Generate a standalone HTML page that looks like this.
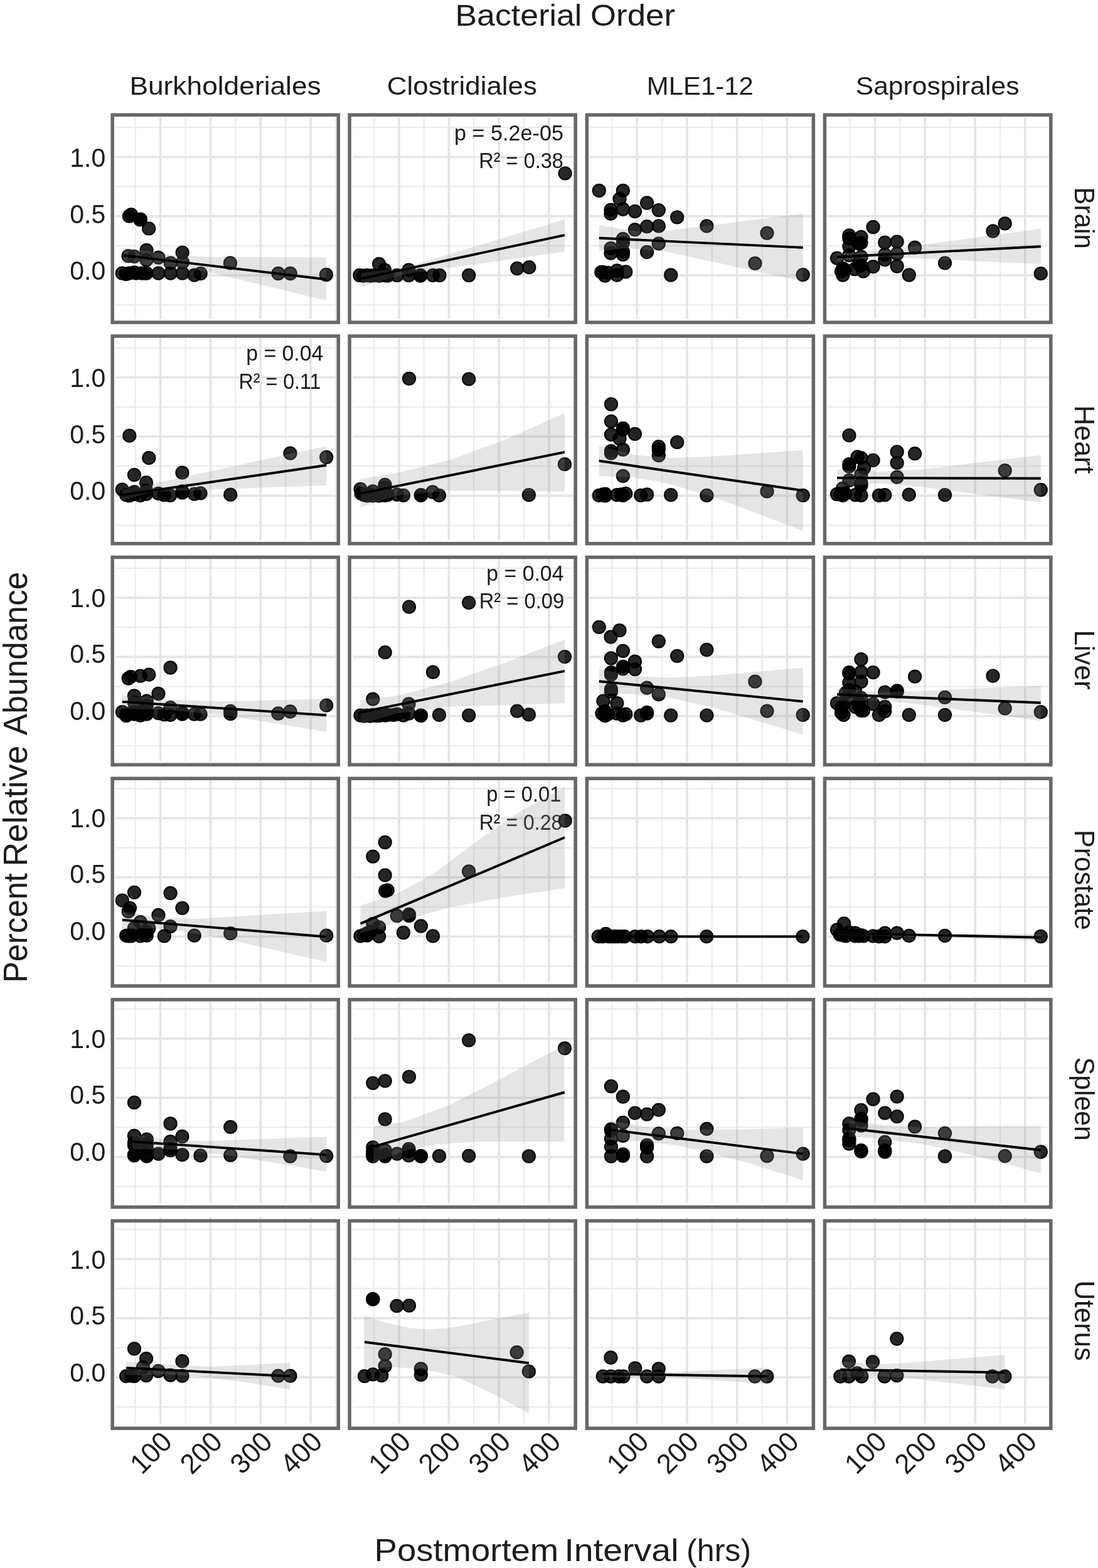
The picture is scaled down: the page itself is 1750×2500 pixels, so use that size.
<!DOCTYPE html>
<html lang="en"><head><meta charset="utf-8"><title>Bacterial Order - Percent Relative Abundance vs Postmortem Interval</title>
<style>html,body{margin:0;padding:0;background:#fff}svg{display:block}text{font-family:"Liberation Sans", sans-serif;fill:#1c1c1c}</style>
</head><body>
<svg width="1750" height="2500" viewBox="0 0 1750 2500">
<rect x="0" y="0" width="1750" height="2500" fill="#fff"/>
<defs>
<clipPath id="c00"><rect x="179.2" y="183.2" width="360.1" height="330.8"/></clipPath>
<clipPath id="c01"><rect x="557.1" y="183.2" width="360.1" height="330.8"/></clipPath>
<clipPath id="c02"><rect x="935.4" y="183.2" width="361" height="330.8"/></clipPath>
<clipPath id="c03"><rect x="1314.5" y="183.2" width="360.3" height="330.8"/></clipPath>
<clipPath id="c10"><rect x="179.2" y="535.9" width="360.1" height="330.8"/></clipPath>
<clipPath id="c11"><rect x="557.1" y="535.9" width="360.1" height="330.8"/></clipPath>
<clipPath id="c12"><rect x="935.4" y="535.9" width="361" height="330.8"/></clipPath>
<clipPath id="c13"><rect x="1314.5" y="535.9" width="360.3" height="330.8"/></clipPath>
<clipPath id="c20"><rect x="179.2" y="888.5" width="360.1" height="330.8"/></clipPath>
<clipPath id="c21"><rect x="557.1" y="888.5" width="360.1" height="330.8"/></clipPath>
<clipPath id="c22"><rect x="935.4" y="888.5" width="361" height="330.8"/></clipPath>
<clipPath id="c23"><rect x="1314.5" y="888.5" width="360.3" height="330.8"/></clipPath>
<clipPath id="c30"><rect x="179.2" y="1241.2" width="360.1" height="330.8"/></clipPath>
<clipPath id="c31"><rect x="557.1" y="1241.2" width="360.1" height="330.8"/></clipPath>
<clipPath id="c32"><rect x="935.4" y="1241.2" width="361" height="330.8"/></clipPath>
<clipPath id="c33"><rect x="1314.5" y="1241.2" width="360.3" height="330.8"/></clipPath>
<clipPath id="c40"><rect x="179.2" y="1593.8" width="360.1" height="330.8"/></clipPath>
<clipPath id="c41"><rect x="557.1" y="1593.8" width="360.1" height="330.8"/></clipPath>
<clipPath id="c42"><rect x="935.4" y="1593.8" width="361" height="330.8"/></clipPath>
<clipPath id="c43"><rect x="1314.5" y="1593.8" width="360.3" height="330.8"/></clipPath>
<clipPath id="c50"><rect x="179.2" y="1946.5" width="360.1" height="330.8"/></clipPath>
<clipPath id="c51"><rect x="557.1" y="1946.5" width="360.1" height="330.8"/></clipPath>
<clipPath id="c52"><rect x="935.4" y="1946.5" width="361" height="330.8"/></clipPath>
<clipPath id="c53"><rect x="1314.5" y="1946.5" width="360.3" height="330.8"/></clipPath>
<clipPath id="g00"><rect x="183.9" y="186.9" width="352.2" height="322.1"/></clipPath>
<clipPath id="g01"><rect x="561.9" y="186.9" width="352.2" height="322.1"/></clipPath>
<clipPath id="g02"><rect x="940.1" y="186.9" width="353.1" height="322.1"/></clipPath>
<clipPath id="g03"><rect x="1319.3" y="186.9" width="352.4" height="322.1"/></clipPath>
<clipPath id="g10"><rect x="183.9" y="537.6" width="352.2" height="323.9"/></clipPath>
<clipPath id="g11"><rect x="561.9" y="537.6" width="352.2" height="323.9"/></clipPath>
<clipPath id="g12"><rect x="940.1" y="537.6" width="353.1" height="323.9"/></clipPath>
<clipPath id="g13"><rect x="1319.3" y="537.6" width="352.4" height="323.9"/></clipPath>
<clipPath id="g20"><rect x="183.9" y="888.3" width="352.2" height="325.8"/></clipPath>
<clipPath id="g21"><rect x="561.9" y="888.3" width="352.2" height="325.8"/></clipPath>
<clipPath id="g22"><rect x="940.1" y="888.3" width="353.1" height="325.8"/></clipPath>
<clipPath id="g23"><rect x="1319.3" y="888.3" width="352.4" height="325.8"/></clipPath>
<clipPath id="g30"><rect x="183.9" y="1239.1" width="352.2" height="327.7"/></clipPath>
<clipPath id="g31"><rect x="561.9" y="1239.1" width="352.2" height="327.7"/></clipPath>
<clipPath id="g32"><rect x="940.1" y="1239.1" width="353.1" height="327.7"/></clipPath>
<clipPath id="g33"><rect x="1319.3" y="1239.1" width="352.4" height="327.7"/></clipPath>
<clipPath id="g40"><rect x="183.9" y="1589.8" width="352.2" height="328.4"/></clipPath>
<clipPath id="g41"><rect x="561.9" y="1589.8" width="352.2" height="328.4"/></clipPath>
<clipPath id="g42"><rect x="940.1" y="1589.8" width="353.1" height="328.4"/></clipPath>
<clipPath id="g43"><rect x="1319.3" y="1589.8" width="352.4" height="328.4"/></clipPath>
<clipPath id="g50"><rect x="183.9" y="1940.5" width="352.2" height="329"/></clipPath>
<clipPath id="g51"><rect x="561.9" y="1940.5" width="352.2" height="329"/></clipPath>
<clipPath id="g52"><rect x="940.1" y="1940.5" width="353.1" height="329"/></clipPath>
<clipPath id="g53"><rect x="1319.3" y="1940.5" width="352.4" height="329"/></clipPath>
</defs>
<text x="725.40" y="41" font-size="48" textLength="202.00" lengthAdjust="spacingAndGlyphs">Bacterial</text>
<text x="941.00" y="41" font-size="48" textLength="135.00" lengthAdjust="spacingAndGlyphs">Order</text>
<text x="359.1" y="151.1" font-size="41.5" text-anchor="middle" textLength="305.3" lengthAdjust="spacingAndGlyphs">Burkholderiales</text>
<text x="736.4" y="151.1" font-size="41.5" text-anchor="middle" textLength="239.1" lengthAdjust="spacingAndGlyphs">Clostridiales</text>
<text x="1115.8" y="151.1" font-size="41.5" text-anchor="middle" textLength="170.1" lengthAdjust="spacingAndGlyphs">MLE1-12</text>
<text x="1494.1" y="151.1" font-size="41.5" text-anchor="middle" textLength="260.8" lengthAdjust="spacingAndGlyphs">Saprospirales</text>
<text x="1712.6" y="347.5" font-size="45" text-anchor="middle" textLength="98.5" lengthAdjust="spacingAndGlyphs" transform="rotate(90 1712.6 347.5)">Brain</text>
<text x="1712.6" y="700.7" font-size="45" text-anchor="middle" textLength="109.4" lengthAdjust="spacingAndGlyphs" transform="rotate(90 1712.6 700.7)">Heart</text>
<text x="1712.6" y="1052" font-size="45" text-anchor="middle" textLength="95" lengthAdjust="spacingAndGlyphs" transform="rotate(90 1712.6 1052)">Liver</text>
<text x="1712.6" y="1402.9" font-size="45" text-anchor="middle" textLength="159.7" lengthAdjust="spacingAndGlyphs" transform="rotate(90 1712.6 1402.9)">Prostate</text>
<text x="1712.6" y="1752.2" font-size="45" text-anchor="middle" textLength="133.3" lengthAdjust="spacingAndGlyphs" transform="rotate(90 1712.6 1752.2)">Spleen</text>
<text x="1712.6" y="2105.6" font-size="45" text-anchor="middle" textLength="128.4" lengthAdjust="spacingAndGlyphs" transform="rotate(90 1712.6 2105.6)">Uterus</text>
<text x="42.9" y="1567.00" font-size="54" textLength="175.00" lengthAdjust="spacingAndGlyphs" transform="rotate(-90 42.9 1567.00)">Percent</text>
<text x="42.9" y="1381.60" font-size="54" textLength="193.00" lengthAdjust="spacingAndGlyphs" transform="rotate(-90 42.9 1381.60)">Relative</text>
<text x="42.9" y="1172.20" font-size="54" textLength="260.60" lengthAdjust="spacingAndGlyphs" transform="rotate(-90 42.9 1172.20)">Abundance</text>
<text x="596.60" y="2488.9" font-size="50" textLength="293.60" lengthAdjust="spacingAndGlyphs">Postmortem</text>
<text x="899.40" y="2488.9" font-size="50" textLength="182.20" lengthAdjust="spacingAndGlyphs">Interval</text>
<text x="1094.00" y="2488.9" font-size="50" textLength="103.20" lengthAdjust="spacingAndGlyphs">(hrs)</text>
<text x="168.2" y="266" font-size="42" text-anchor="end" textLength="57" lengthAdjust="spacingAndGlyphs">1.0</text>
<text x="168.2" y="355.6" font-size="42" text-anchor="end" textLength="57" lengthAdjust="spacingAndGlyphs">0.5</text>
<text x="168.2" y="445.8" font-size="42" text-anchor="end" textLength="57" lengthAdjust="spacingAndGlyphs">0.0</text>
<path clip-path="url(#g00)" d="M215.7 172.5V516.8M295.6 172.5V516.8M375.4 172.5V516.8M455.1 172.5V516.8M535 172.5V516.8M176.4 203.2H542M176.4 297.4H542M176.4 391.8H542M176.4 486.2H542" stroke="#ececec" stroke-width="2.2" fill="none"/>
<path clip-path="url(#g00)" d="M255.6 172.5V516.8M335.5 172.5V516.8M415.2 172.5V516.8M495.1 172.5V516.8M176.4 250.3H542M176.4 344.6H542M176.4 439H542" stroke="#e5e5e4" stroke-width="3.6" fill="none"/>
<g clip-path="url(#c00)">
<g fill="#000" fill-opacity="0.85" stroke="#000" stroke-opacity="0.95" stroke-width="2.1">
<circle cx="205.9" cy="344.7" r="10.1"/>
<circle cx="209" cy="342.2" r="10.1"/>
<circle cx="223.9" cy="349.7" r="10.1"/>
<circle cx="223.3" cy="350.3" r="10.1"/>
<circle cx="237.2" cy="364.4" r="10.1"/>
<circle cx="233.5" cy="398.9" r="10.1"/>
<circle cx="204.6" cy="408.2" r="10.1"/>
<circle cx="214" cy="408.8" r="10.1"/>
<circle cx="252.5" cy="410.7" r="10.1"/>
<circle cx="290.7" cy="402.6" r="10.1"/>
<circle cx="233.5" cy="414.4" r="10.1"/>
<circle cx="271.8" cy="419.4" r="10.1"/>
<circle cx="291.1" cy="418.1" r="10.1"/>
<circle cx="367" cy="419.4" r="10.1"/>
<circle cx="194.7" cy="435.6" r="10.1"/>
<circle cx="200.9" cy="437.1" r="10.1"/>
<circle cx="205.9" cy="435.6" r="10.1"/>
<circle cx="214" cy="434.3" r="10.1"/>
<circle cx="217.1" cy="435.6" r="10.1"/>
<circle cx="225.8" cy="435.6" r="10.1"/>
<circle cx="230.8" cy="435.6" r="10.1"/>
<circle cx="233.5" cy="435.6" r="10.1"/>
<circle cx="252.5" cy="435.6" r="10.1"/>
<circle cx="271.8" cy="435.6" r="10.1"/>
<circle cx="290.7" cy="435.6" r="10.1"/>
<circle cx="309.8" cy="438.7" r="10.1"/>
<circle cx="319.7" cy="436.2" r="10.1"/>
<circle cx="443.5" cy="436" r="10.1"/>
<circle cx="462.7" cy="436" r="10.1"/>
<circle cx="519.9" cy="438" r="10.1"/>
</g>
<polygon points="195.9,394.7 271.7,406.2 330,409.5 519.9,410.4 519.9,479.1 330,433 271.7,425.5 195.9,419" fill="#8c8c8c" fill-opacity="0.225"/>
<line x1="195.9" y1="407" x2="519.9" y2="445.4" stroke="#000" stroke-width="3.9"/>
</g>
<rect x="179.2" y="183.2" width="360.1" height="330.8" fill="none" stroke="#676767" stroke-width="5.5"/>
<path clip-path="url(#g01)" d="M596.2 172.5V516.8M675.7 172.5V516.8M755.2 172.5V516.8M835 172.5V516.8M914.8 172.5V516.8M554.4 203.2H920M554.4 297.4H920M554.4 391.8H920M554.4 486.2H920" stroke="#ececec" stroke-width="2.2" fill="none"/>
<path clip-path="url(#g01)" d="M636 172.5V516.8M715.4 172.5V516.8M795.1 172.5V516.8M875 172.5V516.8M554.4 250.3H920M554.4 344.6H920M554.4 439H920" stroke="#e5e5e4" stroke-width="3.6" fill="none"/>
<g clip-path="url(#c01)">
<text x="898" y="223.5" font-size="35" text-anchor="end" textLength="174" lengthAdjust="spacingAndGlyphs" fill="#0a0a0a">p = 5.2e-05</text>
<text x="898" y="267.8" font-size="35" text-anchor="end" textLength="134.8" lengthAdjust="spacingAndGlyphs" fill="#0a0a0a">R² = 0.38</text>
<g fill="#000" fill-opacity="0.85" stroke="#000" stroke-opacity="0.95" stroke-width="2.1">
<circle cx="900.7" cy="276.3" r="10.1"/>
<circle cx="604.1" cy="421" r="10.1"/>
<circle cx="651.5" cy="430.4" r="10.1"/>
<circle cx="613" cy="430.4" r="10.1"/>
<circle cx="573.3" cy="439" r="10.1"/>
<circle cx="579.2" cy="439.7" r="10.1"/>
<circle cx="585" cy="439" r="10.1"/>
<circle cx="590.8" cy="439.7" r="10.1"/>
<circle cx="596.7" cy="439" r="10.1"/>
<circle cx="604.1" cy="439.7" r="10.1"/>
<circle cx="613" cy="439" r="10.1"/>
<circle cx="617.7" cy="439.7" r="10.1"/>
<circle cx="632.8" cy="439" r="10.1"/>
<circle cx="651.5" cy="439" r="10.1"/>
<circle cx="670.2" cy="439" r="10.1"/>
<circle cx="670.2" cy="439.7" r="10.1"/>
<circle cx="690" cy="439" r="10.1"/>
<circle cx="700.5" cy="439" r="10.1"/>
<circle cx="747.2" cy="439" r="10.1"/>
<circle cx="824.2" cy="428" r="10.1"/>
<circle cx="843.3" cy="426.2" r="10.1"/>
</g>
<polygon points="575.2,435.5 650.3,425.2 900,349.9 900,401.2 650.3,436.2 575.2,456.7" fill="#8c8c8c" fill-opacity="0.225"/>
<line x1="575.2" y1="444.4" x2="900" y2="374.8" stroke="#000" stroke-width="3.9"/>
</g>
<rect x="557.1" y="183.2" width="360.1" height="330.8" fill="none" stroke="#676767" stroke-width="5.5"/>
<path clip-path="url(#g02)" d="M975.5 172.5V516.8M1055.1 172.5V516.8M1134.8 172.5V516.8M1214.7 172.5V516.8M1294.3 172.5V516.8M932.6 203.2H1299.1M932.6 297.4H1299.1M932.6 391.8H1299.1M932.6 486.2H1299.1" stroke="#ececec" stroke-width="2.2" fill="none"/>
<path clip-path="url(#g02)" d="M1015.4 172.5V516.8M1094.8 172.5V516.8M1174.8 172.5V516.8M1254.5 172.5V516.8M932.6 250.3H1299.1M932.6 344.6H1299.1M932.6 439H1299.1" stroke="#e5e5e4" stroke-width="3.6" fill="none"/>
<g clip-path="url(#c02)">
<g fill="#000" fill-opacity="0.85" stroke="#000" stroke-opacity="0.95" stroke-width="2.1">
<circle cx="954.8" cy="303.9" r="10.1"/>
<circle cx="992.9" cy="303.9" r="10.1"/>
<circle cx="987.5" cy="317.2" r="10.1"/>
<circle cx="1031.1" cy="323.5" r="10.1"/>
<circle cx="1049.8" cy="335.1" r="10.1"/>
<circle cx="973.5" cy="334.7" r="10.1"/>
<circle cx="973.5" cy="340.5" r="10.1"/>
<circle cx="992.9" cy="333.5" r="10.1"/>
<circle cx="1012" cy="337" r="10.1"/>
<circle cx="1079.2" cy="346.3" r="10.1"/>
<circle cx="1031.1" cy="361.1" r="10.1"/>
<circle cx="1049.8" cy="360.4" r="10.1"/>
<circle cx="1012" cy="366.2" r="10.1"/>
<circle cx="1126.4" cy="360.4" r="10.1"/>
<circle cx="1222.5" cy="371.6" r="10.1"/>
<circle cx="992.9" cy="380.9" r="10.1"/>
<circle cx="992.9" cy="387.2" r="10.1"/>
<circle cx="1049.8" cy="388.4" r="10.1"/>
<circle cx="973.5" cy="395.8" r="10.1"/>
<circle cx="973.5" cy="403.5" r="10.1"/>
<circle cx="992.9" cy="401.2" r="10.1"/>
<circle cx="992.9" cy="405.9" r="10.1"/>
<circle cx="1031.1" cy="401.9" r="10.1"/>
<circle cx="1203.4" cy="419.9" r="10.1"/>
<circle cx="1279.7" cy="438.1" r="10.1"/>
<circle cx="1069.2" cy="438.5" r="10.1"/>
<circle cx="997.3" cy="433.4" r="10.1"/>
<circle cx="983.3" cy="431.5" r="10.1"/>
<circle cx="983.3" cy="438.5" r="10.1"/>
<circle cx="960.7" cy="433.9" r="10.1"/>
<circle cx="964.2" cy="439.7" r="10.1"/>
<circle cx="968.8" cy="435" r="10.1"/>
<circle cx="958.3" cy="433.9" r="10.1"/>
</g>
<polygon points="954.8,359.2 1021.3,369.7 1058.7,368.5 1279.7,340.5 1279.7,448.6 1058.7,400.5 998,395.4 954.8,400.5" fill="#8c8c8c" fill-opacity="0.225"/>
<line x1="954.8" y1="379.5" x2="1279.7" y2="394.7" stroke="#000" stroke-width="3.9"/>
</g>
<rect x="935.4" y="183.2" width="361" height="330.8" fill="none" stroke="#676767" stroke-width="5.5"/>
<path clip-path="url(#g03)" d="M1354.7 172.5V516.8M1434.4 172.5V516.8M1514.2 172.5V516.8M1594.1 172.5V516.8M1673.8 172.5V516.8M1311.8 203.2H1677.6M1311.8 297.4H1677.6M1311.8 391.8H1677.6M1311.8 486.2H1677.6" stroke="#ececec" stroke-width="2.2" fill="none"/>
<path clip-path="url(#g03)" d="M1394.6 172.5V516.8M1474.3 172.5V516.8M1554.2 172.5V516.8M1633.9 172.5V516.8M1311.8 250.3H1677.6M1311.8 344.6H1677.6M1311.8 439H1677.6" stroke="#e5e5e4" stroke-width="3.6" fill="none"/>
<g clip-path="url(#c03)">
<g fill="#000" fill-opacity="0.85" stroke="#000" stroke-opacity="0.95" stroke-width="2.1">
<circle cx="1391.6" cy="362" r="10.1"/>
<circle cx="1601.7" cy="356.4" r="10.1"/>
<circle cx="1582.5" cy="368.5" r="10.1"/>
<circle cx="1353.4" cy="375.5" r="10.1"/>
<circle cx="1353.4" cy="380.2" r="10.1"/>
<circle cx="1372.5" cy="377.9" r="10.1"/>
<circle cx="1372.5" cy="387.2" r="10.1"/>
<circle cx="1353.4" cy="393" r="10.1"/>
<circle cx="1369" cy="388.4" r="10.1"/>
<circle cx="1410.3" cy="386.7" r="10.1"/>
<circle cx="1429.7" cy="385.3" r="10.1"/>
<circle cx="1458.1" cy="394.7" r="10.1"/>
<circle cx="1334" cy="411.7" r="10.1"/>
<circle cx="1353.4" cy="407" r="10.1"/>
<circle cx="1372.5" cy="409.4" r="10.1"/>
<circle cx="1410.3" cy="405.9" r="10.1"/>
<circle cx="1429.7" cy="404.7" r="10.1"/>
<circle cx="1410.3" cy="414" r="10.1"/>
<circle cx="1429.7" cy="424.5" r="10.1"/>
<circle cx="1391.6" cy="425.2" r="10.1"/>
<circle cx="1506" cy="419.4" r="10.1"/>
<circle cx="1448.8" cy="438.5" r="10.1"/>
<circle cx="1658.8" cy="436.2" r="10.1"/>
<circle cx="1372.5" cy="423.4" r="10.1"/>
<circle cx="1376" cy="432.7" r="10.1"/>
<circle cx="1362" cy="429.2" r="10.1"/>
<circle cx="1343.3" cy="428" r="10.1"/>
<circle cx="1341" cy="432.7" r="10.1"/>
<circle cx="1343.3" cy="438.5" r="10.1"/>
<circle cx="1369" cy="421" r="10.1"/>
<circle cx="1346.8" cy="430.4" r="10.1"/>
</g>
<polygon points="1334,403.5 1399.3,400 1658.8,364.6 1658.8,421 1411,409.4 1334,416.4" fill="#8c8c8c" fill-opacity="0.225"/>
<line x1="1334" y1="409.8" x2="1658.8" y2="393" stroke="#000" stroke-width="3.9"/>
</g>
<rect x="1314.5" y="183.2" width="360.3" height="330.8" fill="none" stroke="#676767" stroke-width="5.5"/>
<text x="168.2" y="616.9" font-size="42" text-anchor="end" textLength="57" lengthAdjust="spacingAndGlyphs">1.0</text>
<text x="168.2" y="706.5" font-size="42" text-anchor="end" textLength="57" lengthAdjust="spacingAndGlyphs">0.5</text>
<text x="168.2" y="796.7" font-size="42" text-anchor="end" textLength="57" lengthAdjust="spacingAndGlyphs">0.0</text>
<path clip-path="url(#g10)" d="M215.7 525.1V869.5M295.6 525.1V869.5M375.4 525.1V869.5M455.1 525.1V869.5M535 525.1V869.5M176.4 554.6H542M176.4 648.8H542M176.4 743.2H542M176.4 837.6H542" stroke="#ececec" stroke-width="2.2" fill="none"/>
<path clip-path="url(#g10)" d="M255.6 525.1V869.5M335.5 525.1V869.5M415.2 525.1V869.5M495.1 525.1V869.5M176.4 601.7H542M176.4 696H542M176.4 790.4H542" stroke="#e5e5e4" stroke-width="3.6" fill="none"/>
<g clip-path="url(#c10)">
<text x="515.4" y="575.3" font-size="35" text-anchor="end" textLength="123.2" lengthAdjust="spacingAndGlyphs" fill="#0a0a0a">p = 0.04</text>
<text x="511.4" y="619.6" font-size="35" text-anchor="end" textLength="130.9" lengthAdjust="spacingAndGlyphs" fill="#0a0a0a">R² = 0.11</text>
<g fill="#000" fill-opacity="0.85" stroke="#000" stroke-opacity="0.95" stroke-width="2.1">
<circle cx="206.3" cy="694.7" r="10.1"/>
<circle cx="237.3" cy="730.2" r="10.1"/>
<circle cx="214" cy="757.2" r="10.1"/>
<circle cx="290.5" cy="753.7" r="10.1"/>
<circle cx="233.1" cy="769.4" r="10.1"/>
<circle cx="462.5" cy="722.7" r="10.1"/>
<circle cx="520.2" cy="729" r="10.1"/>
<circle cx="194.9" cy="780.6" r="10.1"/>
<circle cx="214" cy="784.5" r="10.1"/>
<circle cx="233.1" cy="782.2" r="10.1"/>
<circle cx="290.5" cy="783.4" r="10.1"/>
<circle cx="201.2" cy="789.2" r="10.1"/>
<circle cx="205.8" cy="790.4" r="10.1"/>
<circle cx="214" cy="788" r="10.1"/>
<circle cx="223.8" cy="789.9" r="10.1"/>
<circle cx="233.1" cy="787.6" r="10.1"/>
<circle cx="252.5" cy="786.9" r="10.1"/>
<circle cx="261.8" cy="789.2" r="10.1"/>
<circle cx="271.2" cy="789.9" r="10.1"/>
<circle cx="290.5" cy="785.7" r="10.1"/>
<circle cx="309.7" cy="787.6" r="10.1"/>
<circle cx="319.5" cy="786.4" r="10.1"/>
<circle cx="367.3" cy="788.7" r="10.1"/>
</g>
<polygon points="194.9,780.6 242,771.7 520.2,711 520.2,774 288.7,782.2 242,784.5 194.9,797.4" fill="#8c8c8c" fill-opacity="0.225"/>
<line x1="194.9" y1="789.2" x2="520.2" y2="741.8" stroke="#000" stroke-width="3.9"/>
</g>
<rect x="179.2" y="535.9" width="360.1" height="330.8" fill="none" stroke="#676767" stroke-width="5.5"/>
<path clip-path="url(#g11)" d="M596.2 525.1V869.5M675.7 525.1V869.5M755.2 525.1V869.5M835 525.1V869.5M914.8 525.1V869.5M554.4 554.6H920M554.4 648.8H920M554.4 743.2H920M554.4 837.6H920" stroke="#ececec" stroke-width="2.2" fill="none"/>
<path clip-path="url(#g11)" d="M636 525.1V869.5M715.4 525.1V869.5M795.1 525.1V869.5M875 525.1V869.5M554.4 601.7H920M554.4 696H920M554.4 790.4H920" stroke="#e5e5e4" stroke-width="3.6" fill="none"/>
<g clip-path="url(#c11)">
<g fill="#000" fill-opacity="0.85" stroke="#000" stroke-opacity="0.95" stroke-width="2.1">
<circle cx="652" cy="603.7" r="10.1"/>
<circle cx="747.2" cy="604.4" r="10.1"/>
<circle cx="900" cy="740.2" r="10.1"/>
<circle cx="574.5" cy="779.9" r="10.1"/>
<circle cx="613.5" cy="772.9" r="10.1"/>
<circle cx="613.5" cy="777.5" r="10.1"/>
<circle cx="594.3" cy="783.4" r="10.1"/>
<circle cx="689.5" cy="784.5" r="10.1"/>
<circle cx="842.9" cy="789.2" r="10.1"/>
<circle cx="670.9" cy="789.2" r="10.1"/>
<circle cx="670.9" cy="789.9" r="10.1"/>
<circle cx="700" cy="789.9" r="10.1"/>
<circle cx="632.8" cy="788.7" r="10.1"/>
<circle cx="642.9" cy="789.9" r="10.1"/>
<circle cx="580.3" cy="789.2" r="10.1"/>
<circle cx="585" cy="790.4" r="10.1"/>
<circle cx="594.3" cy="790.4" r="10.1"/>
<circle cx="604.1" cy="790.4" r="10.1"/>
<circle cx="613.5" cy="789.9" r="10.1"/>
<circle cx="617.7" cy="789.2" r="10.1"/>
<circle cx="575.7" cy="786.9" r="10.1"/>
<circle cx="589.7" cy="788" r="10.1"/>
<circle cx="608.3" cy="788" r="10.1"/>
</g>
<polygon points="574.5,763.5 631.7,754.2 713.3,734.4 806.7,700.5 900,658.5 900,783.4 713.3,782.2 631.7,790.4 574.5,809" fill="#8c8c8c" fill-opacity="0.225"/>
<line x1="574.5" y1="786.9" x2="900" y2="720.8" stroke="#000" stroke-width="3.9"/>
</g>
<rect x="557.1" y="535.9" width="360.1" height="330.8" fill="none" stroke="#676767" stroke-width="5.5"/>
<path clip-path="url(#g12)" d="M975.5 525.1V869.5M1055.1 525.1V869.5M1134.8 525.1V869.5M1214.7 525.1V869.5M1294.3 525.1V869.5M932.6 554.6H1299.1M932.6 648.8H1299.1M932.6 743.2H1299.1M932.6 837.6H1299.1" stroke="#ececec" stroke-width="2.2" fill="none"/>
<path clip-path="url(#g12)" d="M1015.4 525.1V869.5M1094.8 525.1V869.5M1174.8 525.1V869.5M1254.5 525.1V869.5M932.6 601.7H1299.1M932.6 696H1299.1M932.6 790.4H1299.1" stroke="#e5e5e4" stroke-width="3.6" fill="none"/>
<g clip-path="url(#c12)">
<g fill="#000" fill-opacity="0.85" stroke="#000" stroke-opacity="0.95" stroke-width="2.1">
<circle cx="974" cy="644.5" r="10.1"/>
<circle cx="974" cy="671.8" r="10.1"/>
<circle cx="992.9" cy="683" r="10.1"/>
<circle cx="992.9" cy="684.9" r="10.1"/>
<circle cx="974" cy="692.8" r="10.1"/>
<circle cx="1012" cy="691.9" r="10.1"/>
<circle cx="987.5" cy="699.3" r="10.1"/>
<circle cx="1079.2" cy="705.2" r="10.1"/>
<circle cx="1049.8" cy="712.2" r="10.1"/>
<circle cx="1049.8" cy="716.9" r="10.1"/>
<circle cx="1049.8" cy="726.2" r="10.1"/>
<circle cx="992.9" cy="716.9" r="10.1"/>
<circle cx="974" cy="719.2" r="10.1"/>
<circle cx="974" cy="722.7" r="10.1"/>
<circle cx="992.9" cy="758.9" r="10.1"/>
<circle cx="1222.5" cy="783.4" r="10.1"/>
<circle cx="1279.7" cy="789.9" r="10.1"/>
<circle cx="1126.4" cy="789.9" r="10.1"/>
<circle cx="1069.2" cy="789.2" r="10.1"/>
<circle cx="1031.1" cy="788.5" r="10.1"/>
<circle cx="1021.3" cy="789.9" r="10.1"/>
<circle cx="997.3" cy="786.9" r="10.1"/>
<circle cx="992.9" cy="789.9" r="10.1"/>
<circle cx="983.3" cy="789.2" r="10.1"/>
<circle cx="954.8" cy="789.9" r="10.1"/>
<circle cx="960.7" cy="788.5" r="10.1"/>
<circle cx="964.6" cy="787.6" r="10.1"/>
<circle cx="964.6" cy="790.4" r="10.1"/>
<circle cx="989.8" cy="788.5" r="10.1"/>
</g>
<polygon points="954.8,711 1009.7,725 1068,730.2 1138,727.4 1279.7,717.6 1279.7,846.4 1138,792.7 1068,771.7 1009.7,761.2 954.8,758.9" fill="#8c8c8c" fill-opacity="0.225"/>
<line x1="954.8" y1="734.8" x2="1279.7" y2="782.2" stroke="#000" stroke-width="3.9"/>
</g>
<rect x="935.4" y="535.9" width="361" height="330.8" fill="none" stroke="#676767" stroke-width="5.5"/>
<path clip-path="url(#g13)" d="M1354.7 525.1V869.5M1434.4 525.1V869.5M1514.2 525.1V869.5M1594.1 525.1V869.5M1673.8 525.1V869.5M1311.8 554.6H1677.6M1311.8 648.8H1677.6M1311.8 743.2H1677.6M1311.8 837.6H1677.6" stroke="#ececec" stroke-width="2.2" fill="none"/>
<path clip-path="url(#g13)" d="M1394.6 525.1V869.5M1474.3 525.1V869.5M1554.2 525.1V869.5M1633.9 525.1V869.5M1311.8 601.7H1677.6M1311.8 696H1677.6M1311.8 790.4H1677.6" stroke="#e5e5e4" stroke-width="3.6" fill="none"/>
<g clip-path="url(#c13)">
<g fill="#000" fill-opacity="0.85" stroke="#000" stroke-opacity="0.95" stroke-width="2.1">
<circle cx="1353.4" cy="694.2" r="10.1"/>
<circle cx="1429.7" cy="720.4" r="10.1"/>
<circle cx="1458.1" cy="723.2" r="10.1"/>
<circle cx="1366.7" cy="728.5" r="10.1"/>
<circle cx="1372.5" cy="730.2" r="10.1"/>
<circle cx="1391.6" cy="733.9" r="10.1"/>
<circle cx="1429.7" cy="737.9" r="10.1"/>
<circle cx="1353.4" cy="740.2" r="10.1"/>
<circle cx="1353.4" cy="743.7" r="10.1"/>
<circle cx="1377.2" cy="746" r="10.1"/>
<circle cx="1372.5" cy="756.5" r="10.1"/>
<circle cx="1601.7" cy="750.2" r="10.1"/>
<circle cx="1429.7" cy="760.7" r="10.1"/>
<circle cx="1353.4" cy="765.9" r="10.1"/>
<circle cx="1372.5" cy="769.4" r="10.1"/>
<circle cx="1372.5" cy="774" r="10.1"/>
<circle cx="1343.3" cy="778.7" r="10.1"/>
<circle cx="1658.8" cy="781" r="10.1"/>
<circle cx="1506" cy="789.2" r="10.1"/>
<circle cx="1448.8" cy="788.7" r="10.1"/>
<circle cx="1410.3" cy="789.2" r="10.1"/>
<circle cx="1401" cy="789.9" r="10.1"/>
<circle cx="1372.5" cy="789.9" r="10.1"/>
<circle cx="1363.2" cy="789.2" r="10.1"/>
<circle cx="1334" cy="788" r="10.1"/>
<circle cx="1339.8" cy="788" r="10.1"/>
<circle cx="1343.3" cy="789.9" r="10.1"/>
<circle cx="1346.8" cy="786.9" r="10.1"/>
</g>
<polygon points="1334,748.4 1399.3,751.9 1469.3,748.4 1658.8,725.5 1658.8,800.9 1469.3,776.4 1399.3,770.5 1334,776.4" fill="#8c8c8c" fill-opacity="0.225"/>
<line x1="1334" y1="761.9" x2="1658.8" y2="762.8" stroke="#000" stroke-width="3.9"/>
</g>
<rect x="1314.5" y="535.9" width="360.3" height="330.8" fill="none" stroke="#676767" stroke-width="5.5"/>
<text x="168.2" y="967.8" font-size="42" text-anchor="end" textLength="57" lengthAdjust="spacingAndGlyphs">1.0</text>
<text x="168.2" y="1057.4" font-size="42" text-anchor="end" textLength="57" lengthAdjust="spacingAndGlyphs">0.5</text>
<text x="168.2" y="1147.6" font-size="42" text-anchor="end" textLength="57" lengthAdjust="spacingAndGlyphs">0.0</text>
<path clip-path="url(#g20)" d="M215.7 877.8V1222.1M295.6 877.8V1222.1M375.4 877.8V1222.1M455.1 877.8V1222.1M535 877.8V1222.1M176.4 906H542M176.4 1000.2H542M176.4 1094.6H542M176.4 1189H542" stroke="#ececec" stroke-width="2.2" fill="none"/>
<path clip-path="url(#g20)" d="M255.6 877.8V1222.1M335.5 877.8V1222.1M415.2 877.8V1222.1M495.1 877.8V1222.1M176.4 953.1H542M176.4 1047.4H542M176.4 1141.8H542" stroke="#e5e5e4" stroke-width="3.6" fill="none"/>
<g clip-path="url(#c20)">
<g fill="#000" fill-opacity="0.85" stroke="#000" stroke-opacity="0.95" stroke-width="2.1">
<circle cx="271.6" cy="1064.5" r="10.1"/>
<circle cx="237.3" cy="1075.7" r="10.1"/>
<circle cx="223.8" cy="1077.6" r="10.1"/>
<circle cx="208.2" cy="1079.2" r="10.1"/>
<circle cx="204.7" cy="1081.5" r="10.1"/>
<circle cx="214" cy="1109.5" r="10.1"/>
<circle cx="252.5" cy="1106" r="10.1"/>
<circle cx="233.8" cy="1117.7" r="10.1"/>
<circle cx="214" cy="1120" r="10.1"/>
<circle cx="233.8" cy="1124.7" r="10.1"/>
<circle cx="271.6" cy="1128.2" r="10.1"/>
<circle cx="520.2" cy="1124.7" r="10.1"/>
<circle cx="462.5" cy="1134.5" r="10.1"/>
<circle cx="443.4" cy="1137.5" r="10.1"/>
<circle cx="367.3" cy="1134" r="10.1"/>
<circle cx="367.3" cy="1138.2" r="10.1"/>
<circle cx="194.9" cy="1135.2" r="10.1"/>
<circle cx="201.2" cy="1138.7" r="10.1"/>
<circle cx="201.2" cy="1141" r="10.1"/>
<circle cx="207" cy="1137.5" r="10.1"/>
<circle cx="214" cy="1135.2" r="10.1"/>
<circle cx="214" cy="1138.7" r="10.1"/>
<circle cx="223.8" cy="1136.4" r="10.1"/>
<circle cx="223.8" cy="1140.6" r="10.1"/>
<circle cx="233.8" cy="1135.2" r="10.1"/>
<circle cx="233.8" cy="1138.7" r="10.1"/>
<circle cx="252.5" cy="1137.1" r="10.1"/>
<circle cx="261.8" cy="1139.4" r="10.1"/>
<circle cx="271.6" cy="1139.9" r="10.1"/>
<circle cx="290.5" cy="1136.4" r="10.1"/>
<circle cx="290.5" cy="1138.7" r="10.1"/>
<circle cx="309.7" cy="1138.7" r="10.1"/>
<circle cx="319.5" cy="1138.7" r="10.1"/>
<circle cx="218.7" cy="1137.5" r="10.1"/>
<circle cx="228" cy="1137.5" r="10.1"/>
</g>
<polygon points="194.9,1108.4 265.3,1115.4 358.7,1118.2 520.2,1114.2 520.2,1166.7 358.7,1140.6 265.3,1131.7 194.9,1129.8" fill="#8c8c8c" fill-opacity="0.225"/>
<line x1="194.9" y1="1118.9" x2="520.2" y2="1140.3" stroke="#000" stroke-width="3.9"/>
</g>
<rect x="179.2" y="888.5" width="360.1" height="330.8" fill="none" stroke="#676767" stroke-width="5.5"/>
<path clip-path="url(#g21)" d="M596.2 877.8V1222.1M675.7 877.8V1222.1M755.2 877.8V1222.1M835 877.8V1222.1M914.8 877.8V1222.1M554.4 906H920M554.4 1000.2H920M554.4 1094.6H920M554.4 1189H920" stroke="#ececec" stroke-width="2.2" fill="none"/>
<path clip-path="url(#g21)" d="M636 877.8V1222.1M715.4 877.8V1222.1M795.1 877.8V1222.1M875 877.8V1222.1M554.4 953.1H920M554.4 1047.4H920M554.4 1141.8H920" stroke="#e5e5e4" stroke-width="3.6" fill="none"/>
<g clip-path="url(#c21)">
<text x="898.5" y="926" font-size="35" text-anchor="end" textLength="123.2" lengthAdjust="spacingAndGlyphs" fill="#0a0a0a">p = 0.04</text>
<text x="899.2" y="970.3" font-size="35" text-anchor="end" textLength="135.5" lengthAdjust="spacingAndGlyphs" fill="#0a0a0a">R² = 0.09</text>
<g fill="#000" fill-opacity="0.85" stroke="#000" stroke-opacity="0.95" stroke-width="2.1">
<circle cx="652" cy="967.6" r="10.1"/>
<circle cx="747.2" cy="960.9" r="10.1"/>
<circle cx="613.7" cy="1040.2" r="10.1"/>
<circle cx="900" cy="1047.2" r="10.1"/>
<circle cx="690" cy="1071.7" r="10.1"/>
<circle cx="594.3" cy="1114.7" r="10.1"/>
<circle cx="651.5" cy="1122.4" r="10.1"/>
<circle cx="824.2" cy="1133.6" r="10.1"/>
<circle cx="842.9" cy="1139.4" r="10.1"/>
<circle cx="747.2" cy="1140.6" r="10.1"/>
<circle cx="700" cy="1139.9" r="10.1"/>
<circle cx="670.9" cy="1140.6" r="10.1"/>
<circle cx="670.9" cy="1141" r="10.1"/>
<circle cx="651.5" cy="1137.5" r="10.1"/>
<circle cx="642.9" cy="1140.6" r="10.1"/>
<circle cx="632.8" cy="1138.7" r="10.1"/>
<circle cx="574.5" cy="1140.6" r="10.1"/>
<circle cx="580.3" cy="1141.5" r="10.1"/>
<circle cx="585" cy="1140.6" r="10.1"/>
<circle cx="594.3" cy="1139.9" r="10.1"/>
<circle cx="604.1" cy="1141" r="10.1"/>
<circle cx="613.5" cy="1140.6" r="10.1"/>
<circle cx="617.7" cy="1139.9" r="10.1"/>
<circle cx="589.7" cy="1141.5" r="10.1"/>
<circle cx="599" cy="1141" r="10.1"/>
<circle cx="627" cy="1139.9" r="10.1"/>
</g>
<polygon points="574.5,1116.5 631.7,1109.5 713.3,1088.5 806.7,1055.9 900,1019.7 900,1121.2 713.3,1127 631.7,1137.5 574.5,1155" fill="#8c8c8c" fill-opacity="0.225"/>
<line x1="574.5" y1="1135.7" x2="900" y2="1069.9" stroke="#000" stroke-width="3.9"/>
</g>
<rect x="557.1" y="888.5" width="360.1" height="330.8" fill="none" stroke="#676767" stroke-width="5.5"/>
<path clip-path="url(#g22)" d="M975.5 877.8V1222.1M1055.1 877.8V1222.1M1134.8 877.8V1222.1M1214.7 877.8V1222.1M1294.3 877.8V1222.1M932.6 906H1299.1M932.6 1000.2H1299.1M932.6 1094.6H1299.1M932.6 1189H1299.1" stroke="#ececec" stroke-width="2.2" fill="none"/>
<path clip-path="url(#g22)" d="M1015.4 877.8V1222.1M1094.8 877.8V1222.1M1174.8 877.8V1222.1M1254.5 877.8V1222.1M932.6 953.1H1299.1M932.6 1047.4H1299.1M932.6 1141.8H1299.1" stroke="#e5e5e4" stroke-width="3.6" fill="none"/>
<g clip-path="url(#c22)">
<g fill="#000" fill-opacity="0.85" stroke="#000" stroke-opacity="0.95" stroke-width="2.1">
<circle cx="954.8" cy="999.8" r="10.1"/>
<circle cx="987.5" cy="1005.2" r="10.1"/>
<circle cx="973.5" cy="1015.5" r="10.1"/>
<circle cx="1049.8" cy="1022.5" r="10.1"/>
<circle cx="1126.4" cy="1036" r="10.1"/>
<circle cx="992.9" cy="1037.9" r="10.1"/>
<circle cx="1079.2" cy="1045.8" r="10.1"/>
<circle cx="974" cy="1049.5" r="10.1"/>
<circle cx="1012" cy="1054.7" r="10.1"/>
<circle cx="992.9" cy="1062.9" r="10.1"/>
<circle cx="992.9" cy="1066.4" r="10.1"/>
<circle cx="1012" cy="1067.1" r="10.1"/>
<circle cx="974" cy="1072.2" r="10.1"/>
<circle cx="974" cy="1075.7" r="10.1"/>
<circle cx="1203.4" cy="1086.7" r="10.1"/>
<circle cx="1031.1" cy="1096.7" r="10.1"/>
<circle cx="974" cy="1099" r="10.1"/>
<circle cx="974" cy="1102.5" r="10.1"/>
<circle cx="1049.8" cy="1107.2" r="10.1"/>
<circle cx="961.4" cy="1117.7" r="10.1"/>
<circle cx="983.3" cy="1121.2" r="10.1"/>
<circle cx="1222.5" cy="1133.6" r="10.1"/>
<circle cx="1279.7" cy="1139.9" r="10.1"/>
<circle cx="1126.4" cy="1140.6" r="10.1"/>
<circle cx="1069.2" cy="1140.6" r="10.1"/>
<circle cx="1031.1" cy="1135.9" r="10.1"/>
<circle cx="1031.1" cy="1137.5" r="10.1"/>
<circle cx="1021.3" cy="1140.6" r="10.1"/>
<circle cx="997.3" cy="1138.7" r="10.1"/>
<circle cx="992.9" cy="1140.6" r="10.1"/>
<circle cx="983.3" cy="1137.5" r="10.1"/>
<circle cx="964.2" cy="1134" r="10.1"/>
<circle cx="964.2" cy="1137.5" r="10.1"/>
<circle cx="964.2" cy="1141" r="10.1"/>
<circle cx="968.8" cy="1138.7" r="10.1"/>
<circle cx="959.5" cy="1137.5" r="10.1"/>
</g>
<polygon points="954.8,1066.4 1009.7,1077.6 1068,1080.4 1138,1076.9 1279.7,1064.7 1279.7,1171.4 1138,1128.2 1068,1113 1009.7,1106.5 954.8,1106" fill="#8c8c8c" fill-opacity="0.225"/>
<line x1="954.8" y1="1086.2" x2="1279.7" y2="1118.4" stroke="#000" stroke-width="3.9"/>
</g>
<rect x="935.4" y="888.5" width="361" height="330.8" fill="none" stroke="#676767" stroke-width="5.5"/>
<path clip-path="url(#g23)" d="M1354.7 877.8V1222.1M1434.4 877.8V1222.1M1514.2 877.8V1222.1M1594.1 877.8V1222.1M1673.8 877.8V1222.1M1311.8 906H1677.6M1311.8 1000.2H1677.6M1311.8 1094.6H1677.6M1311.8 1189H1677.6" stroke="#ececec" stroke-width="2.2" fill="none"/>
<path clip-path="url(#g23)" d="M1394.6 877.8V1222.1M1474.3 877.8V1222.1M1554.2 877.8V1222.1M1633.9 877.8V1222.1M1311.8 953.1H1677.6M1311.8 1047.4H1677.6M1311.8 1141.8H1677.6" stroke="#e5e5e4" stroke-width="3.6" fill="none"/>
<g clip-path="url(#c23)">
<g fill="#000" fill-opacity="0.85" stroke="#000" stroke-opacity="0.95" stroke-width="2.1">
<circle cx="1372.5" cy="1051.2" r="10.1"/>
<circle cx="1353.4" cy="1072.2" r="10.1"/>
<circle cx="1353.4" cy="1073.8" r="10.1"/>
<circle cx="1372.5" cy="1071.5" r="10.1"/>
<circle cx="1391.6" cy="1072.2" r="10.1"/>
<circle cx="1372.5" cy="1086.9" r="10.1"/>
<circle cx="1353.4" cy="1088.5" r="10.1"/>
<circle cx="1458.1" cy="1078.7" r="10.1"/>
<circle cx="1582.5" cy="1077.6" r="10.1"/>
<circle cx="1353.4" cy="1100.2" r="10.1"/>
<circle cx="1363.2" cy="1102.5" r="10.1"/>
<circle cx="1348" cy="1104.9" r="10.1"/>
<circle cx="1410.3" cy="1103.7" r="10.1"/>
<circle cx="1429.7" cy="1101.4" r="10.1"/>
<circle cx="1429.7" cy="1102.5" r="10.1"/>
<circle cx="1506" cy="1111.9" r="10.1"/>
<circle cx="1372.5" cy="1113" r="10.1"/>
<circle cx="1334" cy="1121.2" r="10.1"/>
<circle cx="1391.6" cy="1122.4" r="10.1"/>
<circle cx="1410.3" cy="1127" r="10.1"/>
<circle cx="1601.7" cy="1129.4" r="10.1"/>
<circle cx="1658.8" cy="1135.2" r="10.1"/>
<circle cx="1506" cy="1139.9" r="10.1"/>
<circle cx="1448.8" cy="1139.9" r="10.1"/>
<circle cx="1410.3" cy="1134" r="10.1"/>
<circle cx="1401" cy="1139.9" r="10.1"/>
<circle cx="1372.5" cy="1132.9" r="10.1"/>
<circle cx="1376" cy="1132.9" r="10.1"/>
<circle cx="1363.2" cy="1127" r="10.1"/>
<circle cx="1343.3" cy="1124.7" r="10.1"/>
<circle cx="1341" cy="1129.4" r="10.1"/>
<circle cx="1341" cy="1136.4" r="10.1"/>
<circle cx="1344.5" cy="1139.9" r="10.1"/>
<circle cx="1369" cy="1120" r="10.1"/>
<circle cx="1353.4" cy="1113" r="10.1"/>
<circle cx="1369" cy="1124.7" r="10.1"/>
</g>
<polygon points="1334,1096.7 1399.3,1103.7 1469.3,1101.4 1658.8,1093.2 1658.8,1149.2 1469.3,1123.5 1399.3,1116.5 1334,1117.7" fill="#8c8c8c" fill-opacity="0.225"/>
<line x1="1334" y1="1107.2" x2="1658.8" y2="1120.5" stroke="#000" stroke-width="3.9"/>
</g>
<rect x="1314.5" y="888.5" width="360.3" height="330.8" fill="none" stroke="#676767" stroke-width="5.5"/>
<text x="168.2" y="1318.8" font-size="42" text-anchor="end" textLength="57" lengthAdjust="spacingAndGlyphs">1.0</text>
<text x="168.2" y="1408.4" font-size="42" text-anchor="end" textLength="57" lengthAdjust="spacingAndGlyphs">0.5</text>
<text x="168.2" y="1498.6" font-size="42" text-anchor="end" textLength="57" lengthAdjust="spacingAndGlyphs">0.0</text>
<path clip-path="url(#g30)" d="M215.7 1230.4V1574.7M295.6 1230.4V1574.7M375.4 1230.4V1574.7M455.1 1230.4V1574.7M535 1230.4V1574.7M176.4 1257.4H542M176.4 1351.6H542M176.4 1446H542M176.4 1540.4H542" stroke="#ececec" stroke-width="2.2" fill="none"/>
<path clip-path="url(#g30)" d="M255.6 1230.4V1574.7M335.5 1230.4V1574.7M415.2 1230.4V1574.7M495.1 1230.4V1574.7M176.4 1304.5H542M176.4 1398.8H542M176.4 1493.2H542" stroke="#e5e5e4" stroke-width="3.6" fill="none"/>
<g clip-path="url(#c30)">
<g fill="#000" fill-opacity="0.85" stroke="#000" stroke-opacity="0.95" stroke-width="2.1">
<circle cx="214" cy="1422.9" r="10.1"/>
<circle cx="271.6" cy="1424" r="10.1"/>
<circle cx="194.9" cy="1435.7" r="10.1"/>
<circle cx="207" cy="1447.8" r="10.1"/>
<circle cx="204.7" cy="1453.2" r="10.1"/>
<circle cx="290.5" cy="1447.8" r="10.1"/>
<circle cx="252.5" cy="1459" r="10.1"/>
<circle cx="223.8" cy="1470.2" r="10.1"/>
<circle cx="271.6" cy="1477.2" r="10.1"/>
<circle cx="214" cy="1480" r="10.1"/>
<circle cx="237.3" cy="1480" r="10.1"/>
<circle cx="233.8" cy="1485.9" r="10.1"/>
<circle cx="367.3" cy="1488.2" r="10.1"/>
<circle cx="520.2" cy="1491.7" r="10.1"/>
<circle cx="309.7" cy="1491.7" r="10.1"/>
<circle cx="261.8" cy="1492.4" r="10.1"/>
<circle cx="233.8" cy="1491.7" r="10.1"/>
<circle cx="223.8" cy="1492.4" r="10.1"/>
<circle cx="229.2" cy="1489.4" r="10.1"/>
<circle cx="204.7" cy="1492.4" r="10.1"/>
<circle cx="209.3" cy="1492.4" r="10.1"/>
<circle cx="201.2" cy="1491.7" r="10.1"/>
</g>
<polygon points="194.9,1453.2 253.7,1462.5 312,1464.9 520.2,1452.5 520.2,1533.7 358.7,1496.4 288.7,1484.7 253.7,1480.5 194.9,1480" fill="#8c8c8c" fill-opacity="0.225"/>
<line x1="194.9" y1="1466.7" x2="520.2" y2="1493.6" stroke="#000" stroke-width="3.9"/>
</g>
<rect x="179.2" y="1241.2" width="360.1" height="330.8" fill="none" stroke="#676767" stroke-width="5.5"/>
<path clip-path="url(#g31)" d="M596.2 1230.4V1574.7M675.7 1230.4V1574.7M755.2 1230.4V1574.7M835 1230.4V1574.7M914.8 1230.4V1574.7M554.4 1257.4H920M554.4 1351.6H920M554.4 1446H920M554.4 1540.4H920" stroke="#ececec" stroke-width="2.2" fill="none"/>
<path clip-path="url(#g31)" d="M636 1230.4V1574.7M715.4 1230.4V1574.7M795.1 1230.4V1574.7M875 1230.4V1574.7M554.4 1304.5H920M554.4 1398.8H920M554.4 1493.2H920" stroke="#e5e5e4" stroke-width="3.6" fill="none"/>
<g clip-path="url(#c31)">
<text x="894.5" y="1278.3" font-size="35" text-anchor="end" textLength="119.2" lengthAdjust="spacingAndGlyphs" fill="#0a0a0a">p = 0.01</text>
<text x="896.4" y="1322.6" font-size="35" text-anchor="end" textLength="132.7" lengthAdjust="spacingAndGlyphs" fill="#0a0a0a">R² = 0.28</text>
<g fill="#000" fill-opacity="0.85" stroke="#000" stroke-opacity="0.95" stroke-width="2.1">
<circle cx="613.7" cy="1343" r="10.1"/>
<circle cx="594.3" cy="1365.7" r="10.1"/>
<circle cx="613.7" cy="1395.3" r="10.1"/>
<circle cx="614.2" cy="1420.5" r="10.1"/>
<circle cx="617.7" cy="1419.4" r="10.1"/>
<circle cx="747.2" cy="1389.5" r="10.1"/>
<circle cx="900.7" cy="1308.5" r="10.1"/>
<circle cx="652" cy="1457.9" r="10.1"/>
<circle cx="652" cy="1460.2" r="10.1"/>
<circle cx="632.8" cy="1460.2" r="10.1"/>
<circle cx="670.9" cy="1476.5" r="10.1"/>
<circle cx="594.3" cy="1473" r="10.1"/>
<circle cx="604.1" cy="1478.4" r="10.1"/>
<circle cx="642.9" cy="1487" r="10.1"/>
<circle cx="690" cy="1492.4" r="10.1"/>
<circle cx="604.1" cy="1492.9" r="10.1"/>
<circle cx="574.5" cy="1492.4" r="10.1"/>
<circle cx="580.3" cy="1490.5" r="10.1"/>
<circle cx="585" cy="1488.2" r="10.1"/>
<circle cx="585" cy="1491.7" r="10.1"/>
<circle cx="589.7" cy="1485.9" r="10.1"/>
</g>
<polygon points="574.5,1443.9 631.7,1425.2 690,1393.7 760,1341.2 830,1293.3 900,1254.8 900,1415.9 806.7,1429.9 713.3,1447.4 631.7,1470.7 574.5,1488.2" fill="#8c8c8c" fill-opacity="0.225"/>
<line x1="574.5" y1="1472.6" x2="900" y2="1335.3" stroke="#000" stroke-width="3.9"/>
</g>
<rect x="557.1" y="1241.2" width="360.1" height="330.8" fill="none" stroke="#676767" stroke-width="5.5"/>
<path clip-path="url(#g32)" d="M975.5 1230.4V1574.7M1055.1 1230.4V1574.7M1134.8 1230.4V1574.7M1214.7 1230.4V1574.7M1294.3 1230.4V1574.7M932.6 1257.4H1299.1M932.6 1351.6H1299.1M932.6 1446H1299.1M932.6 1540.4H1299.1" stroke="#ececec" stroke-width="2.2" fill="none"/>
<path clip-path="url(#g32)" d="M1015.4 1230.4V1574.7M1094.8 1230.4V1574.7M1174.8 1230.4V1574.7M1254.5 1230.4V1574.7M932.6 1304.5H1299.1M932.6 1398.8H1299.1M932.6 1493.2H1299.1" stroke="#e5e5e4" stroke-width="3.6" fill="none"/>
<g clip-path="url(#c32)">
<g fill="#000" fill-opacity="0.85" stroke="#000" stroke-opacity="0.95" stroke-width="2.1">
<circle cx="953.8" cy="1493.2" r="10.1"/>
<circle cx="960.8" cy="1493.2" r="10.1"/>
<circle cx="965.5" cy="1488.9" r="10.1"/>
<circle cx="970.2" cy="1493.2" r="10.1"/>
<circle cx="974.9" cy="1493.2" r="10.1"/>
<circle cx="979.5" cy="1493.2" r="10.1"/>
<circle cx="984.2" cy="1493.2" r="10.1"/>
<circle cx="991.3" cy="1493.2" r="10.1"/>
<circle cx="995.9" cy="1493.2" r="10.1"/>
<circle cx="1012.3" cy="1493.2" r="10.1"/>
<circle cx="1021.7" cy="1493.2" r="10.1"/>
<circle cx="1032" cy="1493.2" r="10.1"/>
<circle cx="1050.8" cy="1493.2" r="10.1"/>
<circle cx="1069.5" cy="1493.2" r="10.1"/>
<circle cx="1126.2" cy="1493.2" r="10.1"/>
<circle cx="1279.4" cy="1493.2" r="10.1"/>
</g>
<line x1="953.8" y1="1493.2" x2="1279.4" y2="1493.2" stroke="#000" stroke-width="3.9"/>
</g>
<rect x="935.4" y="1241.2" width="361" height="330.8" fill="none" stroke="#676767" stroke-width="5.5"/>
<path clip-path="url(#g33)" d="M1354.7 1230.4V1574.7M1434.4 1230.4V1574.7M1514.2 1230.4V1574.7M1594.1 1230.4V1574.7M1673.8 1230.4V1574.7M1311.8 1257.4H1677.6M1311.8 1351.6H1677.6M1311.8 1446H1677.6M1311.8 1540.4H1677.6" stroke="#ececec" stroke-width="2.2" fill="none"/>
<path clip-path="url(#g33)" d="M1394.6 1230.4V1574.7M1474.3 1230.4V1574.7M1554.2 1230.4V1574.7M1633.9 1230.4V1574.7M1311.8 1304.5H1677.6M1311.8 1398.8H1677.6M1311.8 1493.2H1677.6" stroke="#e5e5e4" stroke-width="3.6" fill="none"/>
<g clip-path="url(#c33)">
<g fill="#000" fill-opacity="0.85" stroke="#000" stroke-opacity="0.95" stroke-width="2.1">
<circle cx="1334" cy="1482.5" r="10.1"/>
<circle cx="1345.2" cy="1472.5" r="10.1"/>
<circle cx="1343.3" cy="1491.2" r="10.1"/>
<circle cx="1348" cy="1492.3" r="10.1"/>
<circle cx="1353.4" cy="1486.5" r="10.1"/>
<circle cx="1363.2" cy="1487.7" r="10.1"/>
<circle cx="1363.2" cy="1492.3" r="10.1"/>
<circle cx="1372.5" cy="1491.2" r="10.1"/>
<circle cx="1376" cy="1492.3" r="10.1"/>
<circle cx="1391.6" cy="1492.3" r="10.1"/>
<circle cx="1401" cy="1493" r="10.1"/>
<circle cx="1410.3" cy="1487.7" r="10.1"/>
<circle cx="1410.3" cy="1493" r="10.1"/>
<circle cx="1429.7" cy="1487.7" r="10.1"/>
<circle cx="1448.8" cy="1491.9" r="10.1"/>
<circle cx="1506" cy="1491.9" r="10.1"/>
<circle cx="1658.8" cy="1493" r="10.1"/>
<circle cx="1338.7" cy="1490" r="10.1"/>
<circle cx="1369" cy="1492.3" r="10.1"/>
</g>
<polygon points="1334,1485.3 1492.7,1489.5 1658.8,1488.8 1658.8,1500.5 1492.7,1494.2 1334,1490.5" fill="#8c8c8c" fill-opacity="0.225"/>
<line x1="1334" y1="1487.7" x2="1658.8" y2="1494.7" stroke="#000" stroke-width="3.9"/>
</g>
<rect x="1314.5" y="1241.2" width="360.3" height="330.8" fill="none" stroke="#676767" stroke-width="5.5"/>
<text x="168.2" y="1670.8" font-size="42" text-anchor="end" textLength="57" lengthAdjust="spacingAndGlyphs">1.0</text>
<text x="168.2" y="1760.4" font-size="42" text-anchor="end" textLength="57" lengthAdjust="spacingAndGlyphs">0.5</text>
<text x="168.2" y="1850.6" font-size="42" text-anchor="end" textLength="57" lengthAdjust="spacingAndGlyphs">0.0</text>
<path clip-path="url(#g40)" d="M215.7 1583.1V1927.4M295.6 1583.1V1927.4M375.4 1583.1V1927.4M455.1 1583.1V1927.4M535 1583.1V1927.4M176.4 1608.8H542M176.4 1703H542M176.4 1797.4H542M176.4 1891.8H542" stroke="#ececec" stroke-width="2.2" fill="none"/>
<path clip-path="url(#g40)" d="M255.6 1583.1V1927.4M335.5 1583.1V1927.4M415.2 1583.1V1927.4M495.1 1583.1V1927.4M176.4 1655.9H542M176.4 1750.2H542M176.4 1844.6H542" stroke="#e5e5e4" stroke-width="3.6" fill="none"/>
<g clip-path="url(#c40)">
<g fill="#000" fill-opacity="0.85" stroke="#000" stroke-opacity="0.95" stroke-width="2.1">
<circle cx="214" cy="1757.9" r="10.1"/>
<circle cx="271.6" cy="1791.5" r="10.1"/>
<circle cx="367.3" cy="1796.9" r="10.1"/>
<circle cx="214" cy="1810.9" r="10.1"/>
<circle cx="233.8" cy="1816.7" r="10.1"/>
<circle cx="290.5" cy="1812" r="10.1"/>
<circle cx="271.6" cy="1820.2" r="10.1"/>
<circle cx="214" cy="1821.4" r="10.1"/>
<circle cx="233.8" cy="1823.7" r="10.1"/>
<circle cx="214" cy="1826" r="10.1"/>
<circle cx="271.6" cy="1830.7" r="10.1"/>
<circle cx="271.6" cy="1834.2" r="10.1"/>
<circle cx="233.8" cy="1830.7" r="10.1"/>
<circle cx="367.3" cy="1841.9" r="10.1"/>
<circle cx="462.5" cy="1843.5" r="10.1"/>
<circle cx="520.2" cy="1843.1" r="10.1"/>
<circle cx="319.5" cy="1842.4" r="10.1"/>
<circle cx="290.5" cy="1841.2" r="10.1"/>
<circle cx="252.5" cy="1839.6" r="10.1"/>
<circle cx="233.8" cy="1841.2" r="10.1"/>
<circle cx="233.8" cy="1843.5" r="10.1"/>
<circle cx="214" cy="1841.2" r="10.1"/>
<circle cx="214" cy="1842.4" r="10.1"/>
<circle cx="223.8" cy="1833" r="10.1"/>
</g>
<polygon points="210.5,1808.5 265.3,1817.9 335.3,1819 520.2,1812.5 520.2,1868 382,1844.7 288.7,1833 210.5,1831.9" fill="#8c8c8c" fill-opacity="0.225"/>
<line x1="210.5" y1="1820.2" x2="520.2" y2="1841.2" stroke="#000" stroke-width="3.9"/>
</g>
<rect x="179.2" y="1593.8" width="360.1" height="330.8" fill="none" stroke="#676767" stroke-width="5.5"/>
<path clip-path="url(#g41)" d="M596.2 1583.1V1927.4M675.7 1583.1V1927.4M755.2 1583.1V1927.4M835 1583.1V1927.4M914.8 1583.1V1927.4M554.4 1608.8H920M554.4 1703H920M554.4 1797.4H920M554.4 1891.8H920" stroke="#ececec" stroke-width="2.2" fill="none"/>
<path clip-path="url(#g41)" d="M636 1583.1V1927.4M715.4 1583.1V1927.4M795.1 1583.1V1927.4M875 1583.1V1927.4M554.4 1655.9H920M554.4 1750.2H920M554.4 1844.6H920" stroke="#e5e5e4" stroke-width="3.6" fill="none"/>
<g clip-path="url(#c41)">
<g fill="#000" fill-opacity="0.85" stroke="#000" stroke-opacity="0.95" stroke-width="2.1">
<circle cx="747.2" cy="1658.7" r="10.1"/>
<circle cx="900" cy="1671.3" r="10.1"/>
<circle cx="652" cy="1716.8" r="10.1"/>
<circle cx="613.7" cy="1723.3" r="10.1"/>
<circle cx="594.3" cy="1726.8" r="10.1"/>
<circle cx="613.7" cy="1784.5" r="10.1"/>
<circle cx="594.3" cy="1829.5" r="10.1"/>
<circle cx="613.7" cy="1834.2" r="10.1"/>
<circle cx="651.5" cy="1831.9" r="10.1"/>
<circle cx="651.5" cy="1835.4" r="10.1"/>
<circle cx="594.3" cy="1835.4" r="10.1"/>
<circle cx="594.3" cy="1840" r="10.1"/>
<circle cx="594.3" cy="1843.5" r="10.1"/>
<circle cx="613.7" cy="1841.2" r="10.1"/>
<circle cx="613.7" cy="1843.5" r="10.1"/>
<circle cx="632.8" cy="1839.6" r="10.1"/>
<circle cx="651.5" cy="1842.4" r="10.1"/>
<circle cx="670.9" cy="1843.1" r="10.1"/>
<circle cx="670.9" cy="1843.5" r="10.1"/>
<circle cx="700" cy="1843.1" r="10.1"/>
<circle cx="747.2" cy="1842.8" r="10.1"/>
<circle cx="842.9" cy="1843.5" r="10.1"/>
</g>
<polygon points="595.5,1795.7 643.3,1788.7 713.3,1763 783.4,1728 841.7,1696.5 899.3,1667.3 899.3,1820.2 760,1820.2 690,1824.9 643.3,1835.4 595.5,1854" fill="#8c8c8c" fill-opacity="0.225"/>
<line x1="594.3" y1="1828.4" x2="900" y2="1741.5" stroke="#000" stroke-width="3.9"/>
</g>
<rect x="557.1" y="1593.8" width="360.1" height="330.8" fill="none" stroke="#676767" stroke-width="5.5"/>
<path clip-path="url(#g42)" d="M975.5 1583.1V1927.4M1055.1 1583.1V1927.4M1134.8 1583.1V1927.4M1214.7 1583.1V1927.4M1294.3 1583.1V1927.4M932.6 1608.8H1299.1M932.6 1703H1299.1M932.6 1797.4H1299.1M932.6 1891.8H1299.1" stroke="#ececec" stroke-width="2.2" fill="none"/>
<path clip-path="url(#g42)" d="M1015.4 1583.1V1927.4M1094.8 1583.1V1927.4M1174.8 1583.1V1927.4M1254.5 1583.1V1927.4M932.6 1655.9H1299.1M932.6 1750.2H1299.1M932.6 1844.6H1299.1" stroke="#e5e5e4" stroke-width="3.6" fill="none"/>
<g clip-path="url(#c42)">
<g fill="#000" fill-opacity="0.85" stroke="#000" stroke-opacity="0.95" stroke-width="2.1">
<circle cx="974" cy="1732" r="10.1"/>
<circle cx="992.9" cy="1748.5" r="10.1"/>
<circle cx="1049.8" cy="1769.6" r="10.1"/>
<circle cx="1012" cy="1774.7" r="10.1"/>
<circle cx="1031.1" cy="1776.6" r="10.1"/>
<circle cx="992.9" cy="1789.9" r="10.1"/>
<circle cx="974" cy="1800.4" r="10.1"/>
<circle cx="974" cy="1802.7" r="10.1"/>
<circle cx="1126.4" cy="1799.9" r="10.1"/>
<circle cx="1049.8" cy="1807.4" r="10.1"/>
<circle cx="1079.2" cy="1806.9" r="10.1"/>
<circle cx="992.9" cy="1810.9" r="10.1"/>
<circle cx="974" cy="1815.5" r="10.1"/>
<circle cx="1031.1" cy="1826" r="10.1"/>
<circle cx="1031.1" cy="1829.5" r="10.1"/>
<circle cx="974" cy="1828.4" r="10.1"/>
<circle cx="992.9" cy="1840.5" r="10.1"/>
<circle cx="992.9" cy="1842.8" r="10.1"/>
<circle cx="974" cy="1843.5" r="10.1"/>
<circle cx="1031.1" cy="1843.5" r="10.1"/>
<circle cx="1126.4" cy="1843.5" r="10.1"/>
<circle cx="1222.5" cy="1843.1" r="10.1"/>
<circle cx="1279.7" cy="1839.6" r="10.1"/>
</g>
<polygon points="974,1786.4 1021.3,1795.7 1091.3,1801.5 1184.7,1800.4 1279.7,1798 1279.7,1881.6 1184.7,1851.7 1091.3,1828.4 1021.3,1819 974,1817.9" fill="#8c8c8c" fill-opacity="0.225"/>
<line x1="974" y1="1801.5" x2="1279.7" y2="1839.6" stroke="#000" stroke-width="3.9"/>
</g>
<rect x="935.4" y="1593.8" width="361" height="330.8" fill="none" stroke="#676767" stroke-width="5.5"/>
<path clip-path="url(#g43)" d="M1354.7 1583.1V1927.4M1434.4 1583.1V1927.4M1514.2 1583.1V1927.4M1594.1 1583.1V1927.4M1673.8 1583.1V1927.4M1311.8 1608.8H1677.6M1311.8 1703H1677.6M1311.8 1797.4H1677.6M1311.8 1891.8H1677.6" stroke="#ececec" stroke-width="2.2" fill="none"/>
<path clip-path="url(#g43)" d="M1394.6 1583.1V1927.4M1474.3 1583.1V1927.4M1554.2 1583.1V1927.4M1633.9 1583.1V1927.4M1311.8 1655.9H1677.6M1311.8 1750.2H1677.6M1311.8 1844.6H1677.6" stroke="#e5e5e4" stroke-width="3.6" fill="none"/>
<g clip-path="url(#c43)">
<g fill="#000" fill-opacity="0.85" stroke="#000" stroke-opacity="0.95" stroke-width="2.1">
<circle cx="1391.6" cy="1752.5" r="10.1"/>
<circle cx="1429.7" cy="1748.3" r="10.1"/>
<circle cx="1372.5" cy="1770" r="10.1"/>
<circle cx="1410.3" cy="1774.7" r="10.1"/>
<circle cx="1429.7" cy="1780.1" r="10.1"/>
<circle cx="1372.5" cy="1783.6" r="10.1"/>
<circle cx="1372.5" cy="1785.9" r="10.1"/>
<circle cx="1372.5" cy="1794.5" r="10.1"/>
<circle cx="1353.4" cy="1791.5" r="10.1"/>
<circle cx="1353.4" cy="1801.5" r="10.1"/>
<circle cx="1458.1" cy="1796.4" r="10.1"/>
<circle cx="1506" cy="1806.9" r="10.1"/>
<circle cx="1353.4" cy="1815.5" r="10.1"/>
<circle cx="1353.4" cy="1817.9" r="10.1"/>
<circle cx="1353.4" cy="1823.7" r="10.1"/>
<circle cx="1410.3" cy="1820.9" r="10.1"/>
<circle cx="1410.3" cy="1834.2" r="10.1"/>
<circle cx="1410.3" cy="1836.5" r="10.1"/>
<circle cx="1372.5" cy="1834.2" r="10.1"/>
<circle cx="1372.5" cy="1835.8" r="10.1"/>
<circle cx="1506" cy="1843.5" r="10.1"/>
<circle cx="1601.7" cy="1843.1" r="10.1"/>
<circle cx="1658.8" cy="1836.5" r="10.1"/>
</g>
<polygon points="1353.4,1786.4 1399.3,1793.4 1469.3,1796.9 1562.7,1795.7 1658.8,1795.7 1658.8,1870.8 1562.7,1844.7 1469.3,1823.7 1399.3,1815.5 1353.4,1812" fill="#8c8c8c" fill-opacity="0.225"/>
<line x1="1353.4" y1="1799.2" x2="1658.8" y2="1833.7" stroke="#000" stroke-width="3.9"/>
</g>
<rect x="1314.5" y="1593.8" width="360.3" height="330.8" fill="none" stroke="#676767" stroke-width="5.5"/>
<text x="168.2" y="2022.8" font-size="42" text-anchor="end" textLength="57" lengthAdjust="spacingAndGlyphs">1.0</text>
<text x="168.2" y="2112.4" font-size="42" text-anchor="end" textLength="57" lengthAdjust="spacingAndGlyphs">0.5</text>
<text x="168.2" y="2202.6" font-size="42" text-anchor="end" textLength="57" lengthAdjust="spacingAndGlyphs">0.0</text>
<path clip-path="url(#g50)" d="M215.7 1935.8V2280.1M295.6 1935.8V2280.1M375.4 1935.8V2280.1M455.1 1935.8V2280.1M535 1935.8V2280.1M176.4 1960.2H542M176.4 2054.4H542M176.4 2148.8H542M176.4 2243.2H542" stroke="#ececec" stroke-width="2.2" fill="none"/>
<path clip-path="url(#g50)" d="M255.6 1935.8V2280.1M335.5 1935.8V2280.1M415.2 1935.8V2280.1M495.1 1935.8V2280.1M176.4 2007.3H542M176.4 2101.6H542M176.4 2196H542" stroke="#e5e5e4" stroke-width="3.6" fill="none"/>
<g clip-path="url(#c50)">
<g fill="#000" fill-opacity="0.85" stroke="#000" stroke-opacity="0.95" stroke-width="2.1">
<circle cx="214" cy="2150.3" r="10.1"/>
<circle cx="233.1" cy="2166.2" r="10.1"/>
<circle cx="228" cy="2180.2" r="10.1"/>
<circle cx="290.5" cy="2170.2" r="10.1"/>
<circle cx="252.5" cy="2186" r="10.1"/>
<circle cx="271.6" cy="2192.6" r="10.1"/>
<circle cx="290.5" cy="2193.7" r="10.1"/>
<circle cx="233.1" cy="2193" r="10.1"/>
<circle cx="214" cy="2194.2" r="10.1"/>
<circle cx="209.3" cy="2193.7" r="10.1"/>
<circle cx="201.2" cy="2194.2" r="10.1"/>
<circle cx="443.4" cy="2193.7" r="10.1"/>
<circle cx="462.5" cy="2193.7" r="10.1"/>
</g>
<polygon points="201.2,2170.9 265.3,2175.5 335.3,2179 462.5,2172.7 462.5,2215.2 382,2202.4 312,2194.2 265.3,2191.2 201.2,2192.6" fill="#8c8c8c" fill-opacity="0.225"/>
<line x1="201.2" y1="2180.9" x2="462.5" y2="2194.2" stroke="#000" stroke-width="3.9"/>
</g>
<rect x="179.2" y="1946.5" width="360.1" height="330.8" fill="none" stroke="#676767" stroke-width="5.5"/>
<path clip-path="url(#g51)" d="M596.2 1935.8V2280.1M675.7 1935.8V2280.1M755.2 1935.8V2280.1M835 1935.8V2280.1M914.8 1935.8V2280.1M554.4 1960.2H920M554.4 2054.4H920M554.4 2148.8H920M554.4 2243.2H920" stroke="#ececec" stroke-width="2.2" fill="none"/>
<path clip-path="url(#g51)" d="M636 1935.8V2280.1M715.4 1935.8V2280.1M795.1 1935.8V2280.1M875 1935.8V2280.1M554.4 2007.3H920M554.4 2101.6H920M554.4 2196H920" stroke="#e5e5e4" stroke-width="3.6" fill="none"/>
<g clip-path="url(#c51)">
<g fill="#000" fill-opacity="0.85" stroke="#000" stroke-opacity="0.95" stroke-width="2.1">
<circle cx="594.3" cy="2071.2" r="10.1"/>
<circle cx="594.3" cy="2071.7" r="10.1"/>
<circle cx="632.4" cy="2082.2" r="10.1"/>
<circle cx="652" cy="2081.7" r="10.1"/>
<circle cx="613.7" cy="2159.2" r="10.1"/>
<circle cx="613.7" cy="2177.9" r="10.1"/>
<circle cx="670.9" cy="2182.5" r="10.1"/>
<circle cx="670.9" cy="2191.9" r="10.1"/>
<circle cx="823.7" cy="2156.2" r="10.1"/>
<circle cx="842.9" cy="2186.7" r="10.1"/>
<circle cx="581" cy="2194.2" r="10.1"/>
<circle cx="594.3" cy="2191.4" r="10.1"/>
<circle cx="608.3" cy="2193" r="10.1"/>
</g>
<polygon points="580.3,2097.8 620,2110.2 655,2117.7 690,2119.5 725,2116 783.4,2104.3 842.9,2092.7 842.9,2253.7 783.4,2221 725,2194.2 690,2186 655,2181.4 620,2179.5 580.3,2182.5" fill="#8c8c8c" fill-opacity="0.225"/>
<line x1="581" y1="2139.8" x2="842.9" y2="2173.2" stroke="#000" stroke-width="3.9"/>
</g>
<rect x="557.1" y="1946.5" width="360.1" height="330.8" fill="none" stroke="#676767" stroke-width="5.5"/>
<path clip-path="url(#g52)" d="M975.5 1935.8V2280.1M1055.1 1935.8V2280.1M1134.8 1935.8V2280.1M1214.7 1935.8V2280.1M1294.3 1935.8V2280.1M932.6 1960.2H1299.1M932.6 2054.4H1299.1M932.6 2148.8H1299.1M932.6 2243.2H1299.1" stroke="#ececec" stroke-width="2.2" fill="none"/>
<path clip-path="url(#g52)" d="M1015.4 1935.8V2280.1M1094.8 1935.8V2280.1M1174.8 1935.8V2280.1M1254.5 1935.8V2280.1M932.6 2007.3H1299.1M932.6 2101.6H1299.1M932.6 2196H1299.1" stroke="#e5e5e4" stroke-width="3.6" fill="none"/>
<g clip-path="url(#c52)">
<g fill="#000" fill-opacity="0.85" stroke="#000" stroke-opacity="0.95" stroke-width="2.1">
<circle cx="973.5" cy="2164.5" r="10.1"/>
<circle cx="1012.3" cy="2181.4" r="10.1"/>
<circle cx="1049.8" cy="2182.3" r="10.1"/>
<circle cx="960.8" cy="2194.5" r="10.1"/>
<circle cx="973.5" cy="2194.5" r="10.1"/>
<circle cx="986.6" cy="2194.5" r="10.1"/>
<circle cx="993.6" cy="2194.5" r="10.1"/>
<circle cx="1031.1" cy="2194.5" r="10.1"/>
<circle cx="1049.8" cy="2194.5" r="10.1"/>
<circle cx="1203.1" cy="2194.5" r="10.1"/>
<circle cx="1222.3" cy="2194.5" r="10.1"/>
</g>
<polygon points="960.8,2186.1 1068.6,2187.5 1222.3,2180.4 1222.3,2207.1 1068.6,2195.4 960.8,2196.8" fill="#8c8c8c" fill-opacity="0.225"/>
<line x1="960.8" y1="2190.3" x2="1222.3" y2="2194.5" stroke="#000" stroke-width="3.9"/>
</g>
<rect x="935.4" y="1946.5" width="361" height="330.8" fill="none" stroke="#676767" stroke-width="5.5"/>
<path clip-path="url(#g53)" d="M1354.7 1935.8V2280.1M1434.4 1935.8V2280.1M1514.2 1935.8V2280.1M1594.1 1935.8V2280.1M1673.8 1935.8V2280.1M1311.8 1960.2H1677.6M1311.8 2054.4H1677.6M1311.8 2148.8H1677.6M1311.8 2243.2H1677.6" stroke="#ececec" stroke-width="2.2" fill="none"/>
<path clip-path="url(#g53)" d="M1394.6 1935.8V2280.1M1474.3 1935.8V2280.1M1554.2 1935.8V2280.1M1633.9 1935.8V2280.1M1311.8 2007.3H1677.6M1311.8 2101.6H1677.6M1311.8 2196H1677.6" stroke="#e5e5e4" stroke-width="3.6" fill="none"/>
<g clip-path="url(#c53)">
<g fill="#000" fill-opacity="0.85" stroke="#000" stroke-opacity="0.95" stroke-width="2.1">
<circle cx="1429.4" cy="2134.5" r="10.1"/>
<circle cx="1353" cy="2170.6" r="10.1"/>
<circle cx="1391" cy="2171.5" r="10.1"/>
<circle cx="1339.4" cy="2194.5" r="10.1"/>
<circle cx="1353" cy="2194.5" r="10.1"/>
<circle cx="1366.1" cy="2189.3" r="10.1"/>
<circle cx="1373.2" cy="2194.5" r="10.1"/>
<circle cx="1409.7" cy="2194.5" r="10.1"/>
<circle cx="1429.4" cy="2193.1" r="10.1"/>
<circle cx="1581.7" cy="2194.5" r="10.1"/>
<circle cx="1601.4" cy="2194.5" r="10.1"/>
</g>
<polygon points="1339.4,2170.6 1396.6,2175.3 1443.4,2172.9 1601.4,2160.3 1601.4,2215.1 1443.4,2196.4 1396.6,2194 1339.4,2196.4" fill="#8c8c8c" fill-opacity="0.225"/>
<line x1="1339.4" y1="2183.7" x2="1601.4" y2="2188.4" stroke="#000" stroke-width="3.9"/>
</g>
<rect x="1314.5" y="1946.5" width="360.3" height="330.8" fill="none" stroke="#676767" stroke-width="5.5"/>
<text x="276.8" y="2301.6" font-size="45" text-anchor="end" textLength="72" lengthAdjust="spacingAndGlyphs" transform="rotate(-45 276.8 2301.6)">100</text>
<text x="356.7" y="2301.6" font-size="45" text-anchor="end" textLength="72" lengthAdjust="spacingAndGlyphs" transform="rotate(-45 356.7 2301.6)">200</text>
<text x="436.4" y="2301.6" font-size="45" text-anchor="end" textLength="72" lengthAdjust="spacingAndGlyphs" transform="rotate(-45 436.4 2301.6)">300</text>
<text x="516.3" y="2301.6" font-size="45" text-anchor="end" textLength="72" lengthAdjust="spacingAndGlyphs" transform="rotate(-45 516.3 2301.6)">400</text>
<text x="657.2" y="2301.6" font-size="45" text-anchor="end" textLength="72" lengthAdjust="spacingAndGlyphs" transform="rotate(-45 657.2 2301.6)">100</text>
<text x="736.6" y="2301.6" font-size="45" text-anchor="end" textLength="72" lengthAdjust="spacingAndGlyphs" transform="rotate(-45 736.6 2301.6)">200</text>
<text x="816.3" y="2301.6" font-size="45" text-anchor="end" textLength="72" lengthAdjust="spacingAndGlyphs" transform="rotate(-45 816.3 2301.6)">300</text>
<text x="896.2" y="2301.6" font-size="45" text-anchor="end" textLength="72" lengthAdjust="spacingAndGlyphs" transform="rotate(-45 896.2 2301.6)">400</text>
<text x="1036.6" y="2301.6" font-size="45" text-anchor="end" textLength="72" lengthAdjust="spacingAndGlyphs" transform="rotate(-45 1036.6 2301.6)">100</text>
<text x="1116" y="2301.6" font-size="45" text-anchor="end" textLength="72" lengthAdjust="spacingAndGlyphs" transform="rotate(-45 1116 2301.6)">200</text>
<text x="1196" y="2301.6" font-size="45" text-anchor="end" textLength="72" lengthAdjust="spacingAndGlyphs" transform="rotate(-45 1196 2301.6)">300</text>
<text x="1275.7" y="2301.6" font-size="45" text-anchor="end" textLength="72" lengthAdjust="spacingAndGlyphs" transform="rotate(-45 1275.7 2301.6)">400</text>
<text x="1415.8" y="2301.6" font-size="45" text-anchor="end" textLength="72" lengthAdjust="spacingAndGlyphs" transform="rotate(-45 1415.8 2301.6)">100</text>
<text x="1495.5" y="2301.6" font-size="45" text-anchor="end" textLength="72" lengthAdjust="spacingAndGlyphs" transform="rotate(-45 1495.5 2301.6)">200</text>
<text x="1575.4" y="2301.6" font-size="45" text-anchor="end" textLength="72" lengthAdjust="spacingAndGlyphs" transform="rotate(-45 1575.4 2301.6)">300</text>
<text x="1655.1" y="2301.6" font-size="45" text-anchor="end" textLength="72" lengthAdjust="spacingAndGlyphs" transform="rotate(-45 1655.1 2301.6)">400</text>
</svg>
</body></html>
